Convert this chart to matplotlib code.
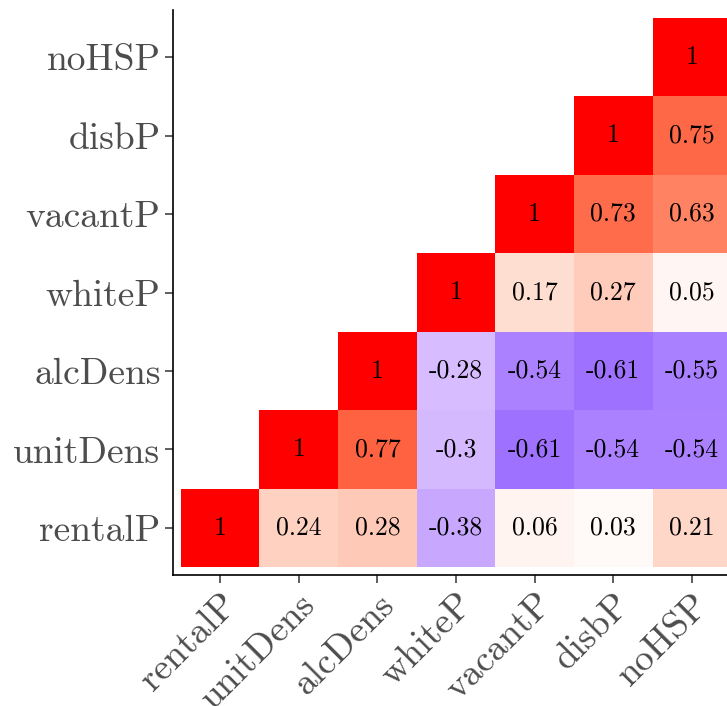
import numpy as np
import matplotlib
matplotlib.use("Agg")
import matplotlib.pyplot as plt
from matplotlib.colors import ListedColormap

# Variables, in axis order (bottom-to-top on y, left-to-right on x)
variables = ["rentalP", "unitDens", "alcDens", "whiteP", "vacantP", "disbP", "noHSP"]

# Upper part of the correlation matrix, one list per row variable
# (values for the columns from that variable onward)
r_rentalP = [1, 0.24, 0.28, -0.38, 0.06, 0.03, 0.21]
r_unitDens = [1, 0.77, -0.3, -0.61, -0.54, -0.54]
r_alcDens = [1, -0.28, -0.54, -0.61, -0.55]
r_whiteP = [1, 0.17, 0.27, 0.05]
r_vacantP = [1, 0.73, 0.63]
r_disbP = [1, 0.75]
r_noHSP = [1]
rows = [r_rentalP, r_unitDens, r_alcDens, r_whiteP, r_vacantP, r_disbP, r_noHSP]

n = len(variables)
mat = np.full((n, n), np.nan)
for i, row in enumerate(rows):
    for k, v in enumerate(row):
        mat[i, i + k] = v


# ---- blue / white / red gradient interpolated in CIE Lab ----
def srgb_to_lab(rgb):
    rgb = np.asarray(rgb, float)
    lin = np.where(rgb <= 0.04045, rgb / 12.92, ((rgb + 0.055) / 1.055) ** 2.4)
    M = np.array([[0.4124564, 0.3575761, 0.1804375],
                  [0.2126729, 0.7151522, 0.0721750],
                  [0.0193339, 0.1191920, 0.9503041]])
    xyz = lin @ M.T
    wp = np.array([0.95047, 1.0, 1.08883])
    t = xyz / wp
    f = np.where(t > (6 / 29) ** 3, np.cbrt(t), t / (3 * (6 / 29) ** 2) + 4 / 29)
    L = 116 * f[..., 1] - 16
    a = 500 * (f[..., 0] - f[..., 1])
    b = 200 * (f[..., 1] - f[..., 2])
    return np.stack([L, a, b], -1)


def lab_to_srgb(lab):
    lab = np.asarray(lab, float)
    fy = (lab[..., 0] + 16) / 116
    fx = fy + lab[..., 1] / 500
    fz = fy - lab[..., 2] / 200
    f = np.stack([fx, fy, fz], -1)
    t = np.where(f > 6 / 29, f ** 3, 3 * (6 / 29) ** 2 * (f - 4 / 29))
    wp = np.array([0.95047, 1.0, 1.08883])
    xyz = t * wp
    Minv = np.array([[3.2404542, -1.5371385, -0.4985314],
                     [-0.9692660, 1.8760108, 0.0415560],
                     [0.0556434, -0.2040259, 1.0572252]])
    lin = xyz @ Minv.T
    lin = np.clip(lin, 0, 1)
    rgb = np.where(lin <= 0.0031308, 12.92 * lin, 1.055 * lin ** (1 / 2.4) - 0.055)
    return np.clip(rgb, 0, 1)


low, mid, high = srgb_to_lab([0, 0, 1]), srgb_to_lab([1, 1, 1]), srgb_to_lab([1, 0, 0])
vals = np.linspace(-1, 1, 513)
labs = []
for v in vals:
    if v < 0:
        labs.append(mid + (low - mid) * (-v))
    else:
        labs.append(mid + (high - mid) * v)
cmap = ListedColormap(lab_to_srgb(np.array(labs)))

# ---- figure ----
W, H = 727, 706
fig = plt.figure(figsize=(W / 100, H / 100), dpi=100)
left, right, bottom, top = 173, 739, 575, 10
ax = fig.add_axes([left / W, 1 - bottom / H, (right - left) / W, (bottom - top) / H])

edges = np.arange(n + 1) + 0.5
ax.pcolormesh(edges, edges, np.ma.masked_invalid(mat), cmap=cmap, vmin=-1, vmax=1,
              edgecolors="none")

for i in range(n):
    for j in range(n):
        v = mat[i, j]
        if not np.isnan(v):
            ax.text(j + 1, i + 1, f"{v:g}", ha="center", va="center",
                    fontsize=18.5, family="cmr10", color="black")

ax.set_xlim(0.4, n + 0.6)
ax.set_ylim(0.4, n + 0.6)
ax.set_xticks(np.arange(1, n + 1))
ax.set_yticks(np.arange(1, n + 1))
ax.set_xticklabels(variables, rotation=45, ha="right", rotation_mode="anchor",
                   family="cmr10", fontsize=27, color="#4D4D4D")
ax.set_yticklabels(variables, family="cmr10", fontsize=27, color="#4D4D4D")
ax.tick_params(axis="both", length=6, width=1.1, color="#333333", pad=3)

for s in ["top", "right"]:
    ax.spines[s].set_visible(False)
for s in ["left", "bottom"]:
    ax.spines[s].set_linewidth(1.2)
    ax.spines[s].set_color("black")

fig.savefig("out.png", dpi=100)
